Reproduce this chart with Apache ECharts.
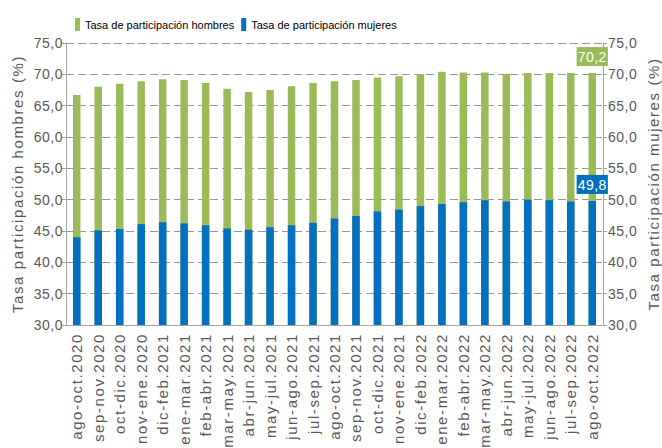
<!DOCTYPE html>
<html>
<head>
<meta charset="utf-8">
<script src="https://cdn.jsdelivr.net/npm/echarts@6/dist/echarts.min.js"></script>
<style>
html,body{margin:0;padding:0;background:#fff;overflow:hidden;}
#chart{width:662px;height:448px;}
/* the reference uses widely tracked lettering on axis texts */
#chart text[style*="15px"]{letter-spacing:1.6px;}
#chart text[style*="14px"]{letter-spacing:0.5px;}
</style>
</head>
<body>
<div id="chart"></div>
<script>
const categories = ["ago-oct.2020","sep-nov.2020","oct-dic.2020","nov-ene.2020","dic-feb.2021","ene-mar.2021","feb-abr.2021","mar-may.2021","abr-jun.2021","may-jul.2021","jun-ago.2021","jul-sep.2021","ago-oct.2021","sep-nov.2021","oct-dic.2021","nov-ene.2021","dic-feb.2022","ene-mar.2022","feb-abr.2022","mar-may.2022","abr-jun.2022","may-jul.2022","jun-ago.2022","jul-sep.2022","ago-oct.2022"];
const hombres = [66.7,68.0,68.5,68.9,69.2,69.1,68.6,67.7,67.2,67.5,68.1,68.6,68.9,69.1,69.5,69.7,70.0,70.4,70.3,70.3,70.1,70.2,70.2,70.2,70.2];
const mujeres = [44.0,45.1,45.3,46.1,46.4,46.2,45.9,45.4,45.2,45.6,45.9,46.3,47.0,47.4,48.1,48.4,49.0,49.3,49.6,49.9,49.7,50.0,49.9,49.7,49.8];
const seriesNames = ["Tasa de participación hombres","Tasa de participación mujeres"];
const axisNames = ["Tasa participación hombres (%)","Tasa participación mujeres (%)"];

const GREEN = '#9BBB59', BLUE = '#0070C0', TXT = '#595959', AX = '#a6a6a6';
const FONT = 'Liberation Sans, Arial, sans-serif';
const fmt = v => v.toFixed(1).replace('.', ',');
const last = categories.length - 1;

function yAx(name, pos) {
  return {
    type: 'value', position: pos, min: 30, max: 75, interval: 5,
    name: name, nameLocation: 'middle', nameRotate: 90,
    nameGap: pos === 'left' ? 37 : 43,
    nameTextStyle: {color: TXT, fontSize: 15, fontFamily: FONT},
    axisLine: {show: true, lineStyle: {color: AX, width: 1}},
    axisTick: {show: true, length: 4, lineStyle: {color: AX}},
    axisLabel: {color: TXT, fontSize: 14, margin: pos === 'left' ? 3 : 5, fontFamily: FONT, formatter: fmt},
    splitLine: {show: pos === 'left', lineStyle: {color: '#999', type: [8, 4], width: 1}}
  };
}

const chart = echarts.init(document.getElementById('chart'), null, {renderer: 'svg', width: 662, height: 448});
chart.setOption({
  animation: false,
  backgroundColor: '#fff',
  legend: {
    top: 13, left: 70, itemGap: 7, itemWidth: 5, itemHeight: 13,
    textStyle: {color: '#000', fontSize: 11, fontFamily: FONT},
    data: seriesNames.map(n => ({name: n, icon: 'rect'}))
  },
  grid: {left: 66, right: 59, top: 43, bottom: 123, containLabel: false, outerBoundsMode: 'none'},
  xAxis: {
    type: 'category', data: categories,
    axisLine: {lineStyle: {color: AX}},
    axisTick: {alignWithLabel: true, length: 4, lineStyle: {color: AX}},
    axisLabel: {rotate: 90, interval: 0, color: TXT, fontSize: 15, margin: 8, fontFamily: FONT}
  },
  yAxis: [yAx(axisNames[0], 'left'), yAx(axisNames[1], 'right')],
  series: [
    {
      name: seriesNames[0], type: 'bar', yAxisIndex: 0, barWidth: 7.5, barGap: '-100%',
      itemStyle: {color: GREEN},
      data: hombres.map((v, i) => i === last ? {value: v, label: {show: true}} : v),
      label: {show: false, position: 'top', distance: 7, color: '#fff', backgroundColor: GREEN,
        padding: [3, 2, 2, 2], fontSize: 14, fontFamily: FONT, formatter: p => fmt(p.value)}
    },
    {
      name: seriesNames[1], type: 'bar', yAxisIndex: 1, barWidth: 7.5, barGap: '-100%',
      itemStyle: {color: BLUE},
      data: mujeres.map((v, i) => i === last ? {value: v, label: {show: true}} : v),
      label: {show: false, position: 'top', distance: 7, color: '#fff', backgroundColor: BLUE,
        padding: [3, 2, 2, 2], fontSize: 14, fontFamily: FONT, formatter: p => fmt(p.value)}
    }
  ]
});
</script>
</body>
</html>
